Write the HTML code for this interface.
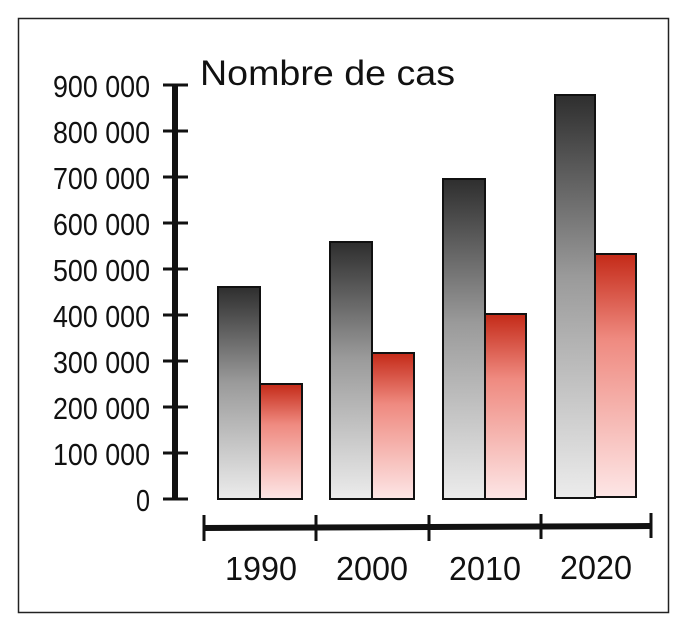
<!DOCTYPE html>
<html><head><meta charset="utf-8"><style>
html,body{margin:0;padding:0;background:#fff;}
svg{display:block;}
text{font-family:"Liberation Sans",Arial,sans-serif;fill:#111;}
</style></head><body>
<svg width="693" height="632" viewBox="0 0 693 632" xmlns="http://www.w3.org/2000/svg">
<defs>
<linearGradient id="g" x1="0" y1="0" x2="0" y2="1">
<stop offset="0" stop-color="#2e2e2e"/><stop offset="0.45" stop-color="#9a9a9a"/><stop offset="1" stop-color="#ececec"/>
</linearGradient>
<linearGradient id="r" x1="0" y1="0" x2="0" y2="1">
<stop offset="0" stop-color="#c42a18"/><stop offset="0.35" stop-color="#ef8a80"/><stop offset="1" stop-color="#fde6e6"/>
</linearGradient>
</defs>
<rect x="0" y="0" width="693" height="632" fill="#fff"/>
<rect x="18.5" y="18.5" width="650" height="594" fill="none" stroke="#222" stroke-width="1.5"/>
<text x="200" y="85" font-size="35" textLength="255" lengthAdjust="spacingAndGlyphs">Nombre de cas</text>
<line x1="175" y1="85" x2="175" y2="499" stroke="#111" stroke-width="6"/>
<g stroke="#111" stroke-width="3">
<line x1="163" x2="188" y1="85" y2="85"/><line x1="163" x2="188" y1="131" y2="131"/>
<line x1="163" x2="188" y1="177" y2="177"/><line x1="163" x2="188" y1="223" y2="223"/>
<line x1="163" x2="188" y1="269" y2="269"/><line x1="163" x2="188" y1="315" y2="315"/>
<line x1="163" x2="188" y1="361" y2="361"/><line x1="163" x2="188" y1="407" y2="407"/>
<line x1="163" x2="188" y1="453" y2="453"/><line x1="163" x2="188" y1="499" y2="499"/>
</g>
<g font-size="31" text-anchor="end">
<text x="150" y="97" textLength="97" lengthAdjust="spacingAndGlyphs">900 000</text>
<text x="150" y="143" textLength="97" lengthAdjust="spacingAndGlyphs">800 000</text>
<text x="150" y="189" textLength="97" lengthAdjust="spacingAndGlyphs">700 000</text>
<text x="150" y="235" textLength="97" lengthAdjust="spacingAndGlyphs">600 000</text>
<text x="150" y="281" textLength="97" lengthAdjust="spacingAndGlyphs">500 000</text>
<text x="150" y="327" textLength="97" lengthAdjust="spacingAndGlyphs">400 000</text>
<text x="150" y="373" textLength="97" lengthAdjust="spacingAndGlyphs">300 000</text>
<text x="150" y="419" textLength="97" lengthAdjust="spacingAndGlyphs">200 000</text>
<text x="150" y="465" textLength="97" lengthAdjust="spacingAndGlyphs">100 000</text>
<text x="150" y="511" textLength="14" lengthAdjust="spacingAndGlyphs">0</text>
</g>
<g stroke="#111" stroke-width="2">
<rect x="218" y="287" width="42" height="212" fill="url(#g)"/>
<rect x="260" y="384" width="42" height="115" fill="url(#r)"/>
<rect x="330" y="242" width="42" height="257" fill="url(#g)"/>
<rect x="372" y="353" width="42" height="146" fill="url(#r)"/>
<rect x="443" y="179" width="42" height="320" fill="url(#g)"/>
<rect x="485" y="314" width="41" height="185" fill="url(#r)"/>
<rect x="555" y="95" width="40" height="403" fill="url(#g)"/>
<rect x="595" y="254" width="41" height="243" fill="url(#r)"/>
</g>
<line x1="204" y1="528" x2="651" y2="526" stroke="#111" stroke-width="6"/>
<g stroke="#111" stroke-width="3">
<line x1="204" x2="204" y1="515" y2="541"/><line x1="316" x2="316" y1="515" y2="541"/>
<line x1="429" x2="429" y1="515" y2="541"/><line x1="541" x2="541" y1="514" y2="539"/>
<line x1="651" x2="651" y1="513" y2="538"/>
</g>
<g font-size="33" text-anchor="middle">
<text x="261" y="580" textLength="72" lengthAdjust="spacingAndGlyphs">1990</text>
<text x="372" y="580" textLength="72" lengthAdjust="spacingAndGlyphs">2000</text>
<text x="485" y="580" textLength="72" lengthAdjust="spacingAndGlyphs">2010</text>
<text x="596" y="579" textLength="72" lengthAdjust="spacingAndGlyphs">2020</text>
</g>
</svg>
</body></html>
